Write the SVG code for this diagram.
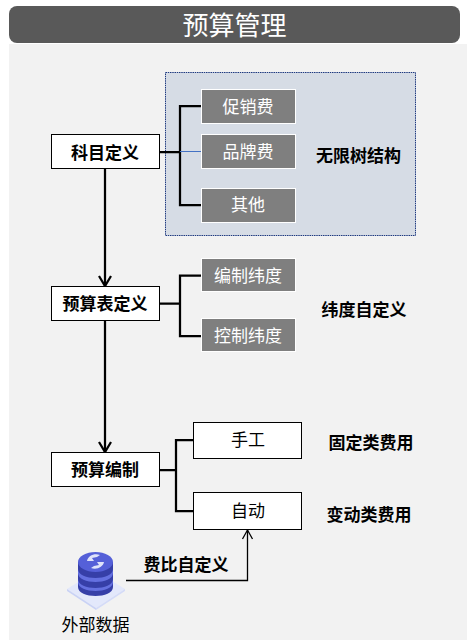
<svg xmlns="http://www.w3.org/2000/svg" width="467" height="643" viewBox="0 0 467 643">
<style>
text{font-family:"Noto Sans CJK SC","Liberation Sans",sans-serif;text-anchor:middle;dominant-baseline:central}
.w{fill:#fff;stroke:#000;stroke-width:1}
.g{fill:#7f7f7f;stroke:#fff;stroke-width:1}
.gt{fill:#fff;font-size:17px}
.bt{fill:#000;font-size:17px}
.b{fill:#000;font-size:17px;font-weight:700}
.c{fill:none;stroke:#000;stroke-width:2.25}
</style>
<defs>
<marker id="a" markerUnits="userSpaceOnUse" markerWidth="16" markerHeight="16" refX="12" refY="8" orient="auto"><path d="M2 2L12 8L2 14" fill="none" stroke="#000" stroke-width="2.25"/></marker>
<marker id="a2" markerUnits="userSpaceOnUse" markerWidth="14" markerHeight="14" refX="11" refY="7" orient="auto"><path d="M2 2L11 7L2 12" fill="none" stroke="#000" stroke-width="1.3"/></marker>
</defs>
<rect x="0" y="0" width="467" height="643" fill="#fff"/>
<rect x="9" y="44" width="458" height="596" fill="#f2f2f2"/>
<g id="title"><rect x="9" y="6" width="451" height="37" rx="8" fill="#595959"/><text x="234.500" y="23.500" fill="#fff" font-size="26">预算管理</text></g>
<g id="panel"><rect x="165.500" y="72.500" width="250" height="163" fill="#d6dce5" stroke="#1f3a80" stroke-width="1" stroke-dasharray="1.500 0.750"/><text class="b" x="358.500" y="154">无限树结构</text></g>
<g id="connectors">
<path class="c" d="M105 168V286" marker-end="url(#a)"/>
<path class="c" d="M105 321V452" marker-end="url(#a)"/>
<path class="c" d="M160 152H180M201 106H180V205H201"/>
<path d="M180 151.500H201" stroke="#4472c4" stroke-width="1" fill="none"/>
<path class="c" d="M160 303.500H180M201 275.500H180V336H201"/>
<path class="c" d="M160 470H176M193 440H176V511H193"/>
<path d="M126 580.500H247.500V530" fill="none" stroke="#000" stroke-width="1.300" marker-end="url(#a2)"/>
</g>
<g id="n1"><rect class="w" x="51.500" y="134.500" width="108" height="34"/><text class="b" x="105" y="151">科目定义</text></g>
<g id="n2"><rect class="g" x="201.500" y="89.500" width="94" height="34"/><text class="gt" x="248" y="105">促销费</text></g>
<g id="n3"><rect class="g" x="201.500" y="134.500" width="94" height="34"/><text class="gt" x="248" y="150">品牌费</text></g>
<g id="n4"><rect class="g" x="201.500" y="188.500" width="94" height="34"/><text class="gt" x="248" y="203.500">其他</text></g>
<g id="n5"><rect class="w" x="51.500" y="286.500" width="108" height="34"/><text class="b" x="105" y="302">预算表定义</text></g>
<g id="n6"><rect class="g" x="201.500" y="258.500" width="94" height="33"/><text class="gt" x="248" y="274">编制纬度</text></g>
<g id="n7"><rect class="g" x="201.500" y="318.500" width="94" height="33"/><text class="gt" x="248" y="334">控制纬度</text></g>
<g id="n8"><rect class="w" x="51.500" y="452.500" width="108" height="34"/><text class="b" x="105" y="468">预算编制</text></g>
<g id="n9"><rect class="w" x="193.500" y="422.500" width="108" height="36"/><text class="bt" x="248" y="438.500">手工</text></g>
<g id="n10"><rect class="w" x="193.500" y="492.500" width="108" height="37"/><text class="bt" x="248" y="509.500">自动</text></g>
<g id="labels">
<text class="b" x="364" y="308">纬度自定义</text>
<text class="b" x="371" y="441">固定类费用</text>
<text class="b" x="369" y="513">变动类费用</text>
<text class="b" x="186" y="563">费比自定义</text>
</g>
<g id="ext">
<path d="M67 589L96 571L125 589L96 608Z" fill="#e3e8fb"/>
<path d="M67 589L96 608V610L67 591Z" fill="#c9d2f5"/>
<path d="M125 589L96 608V610L125 591Z" fill="#d4dbf8"/>
<path d="M78 562V587C78 599 113 599 113 587V562Z" fill="#363fa8"/>
<path d="M78 569C78 581 113 581 113 569V573C113 585 78 585 78 573ZM78 579C78 591 113 591 113 579V582C113 594 78 594 78 582Z" fill="#6470e0"/>
<ellipse cx="95.500" cy="562" rx="17.500" ry="10" fill="#5560d8"/>
<path d="M87 561C88 556 94 553 100 555L97 557L92 558L94 561ZM104 562C103 567 97 570 91 568L94 566L99 565L97 562Z" fill="#dfe3fa"/>
<text x="95.500" y="623" fill="#000" font-size="17">外部数据</text>
</g>
</svg>
